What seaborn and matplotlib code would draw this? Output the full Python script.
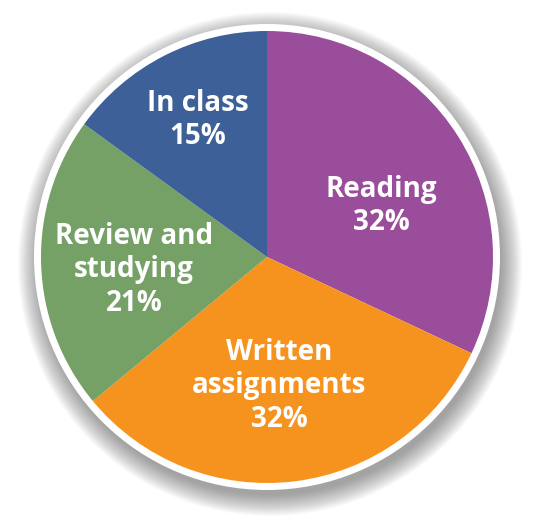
import matplotlib
matplotlib.use("Agg")
import matplotlib.pyplot as plt
from matplotlib.patches import Circle
import seaborn as sns

# data
activities = ["Reading", "Written\nassignments", "Review and\nstudying", "In class"]
shares = [32, 32, 21, 15]
slice_colors = ["#9a4d9b", "#f6931f", "#75a066", "#3d6099"]

sns.set_theme(style="white")
plt.rcParams["font.family"] = ["Open Sans", "DejaVu Sans"]

labels = [f"{a}\n{s}%" for a, s in zip(activities, shares)]

fig = plt.figure(figsize=(5.37, 5.26), dpi=100)
ax = fig.add_axes([0, 0, 1, 1])

cx, cy, r = 267, 269, 226
# where each label block sits, relative to the pie centre (pixels)
label_offsets = [(114, 51), (12, -129), (-133, -13), (-69, 137)]

# soft drop shadow behind the disc
for k in range(22):
    ax.add_patch(Circle((cx + 3, cy - 7), r + 26 - k, color="#303030",
                        alpha=0.025, lw=0, zorder=0))
# white rim
ax.add_patch(Circle((cx, cy), r + 7, color="white", lw=0, zorder=1))

wedges, texts = ax.pie(shares, labels=labels, colors=sns.color_palette(slice_colors),
                       startangle=90, counterclock=False, radius=r, center=(cx, cy),
                       labeldistance=0.58, frame=True,
                       wedgeprops=dict(linewidth=0, zorder=2),
                       textprops=dict(color="white", fontsize=20, fontweight="bold",
                                      ha="center", va="center", linespacing=1.22))
for t, (dx, dy) in zip(texts, label_offsets):
    t.set_position((cx + dx, cy + dy))
    t.set_zorder(3)

ax.set_xlim(0, 537)
ax.set_ylim(0, 526)
ax.set_aspect("equal")
ax.axis("off")

fig.savefig("out.png", dpi=100, facecolor="white")
